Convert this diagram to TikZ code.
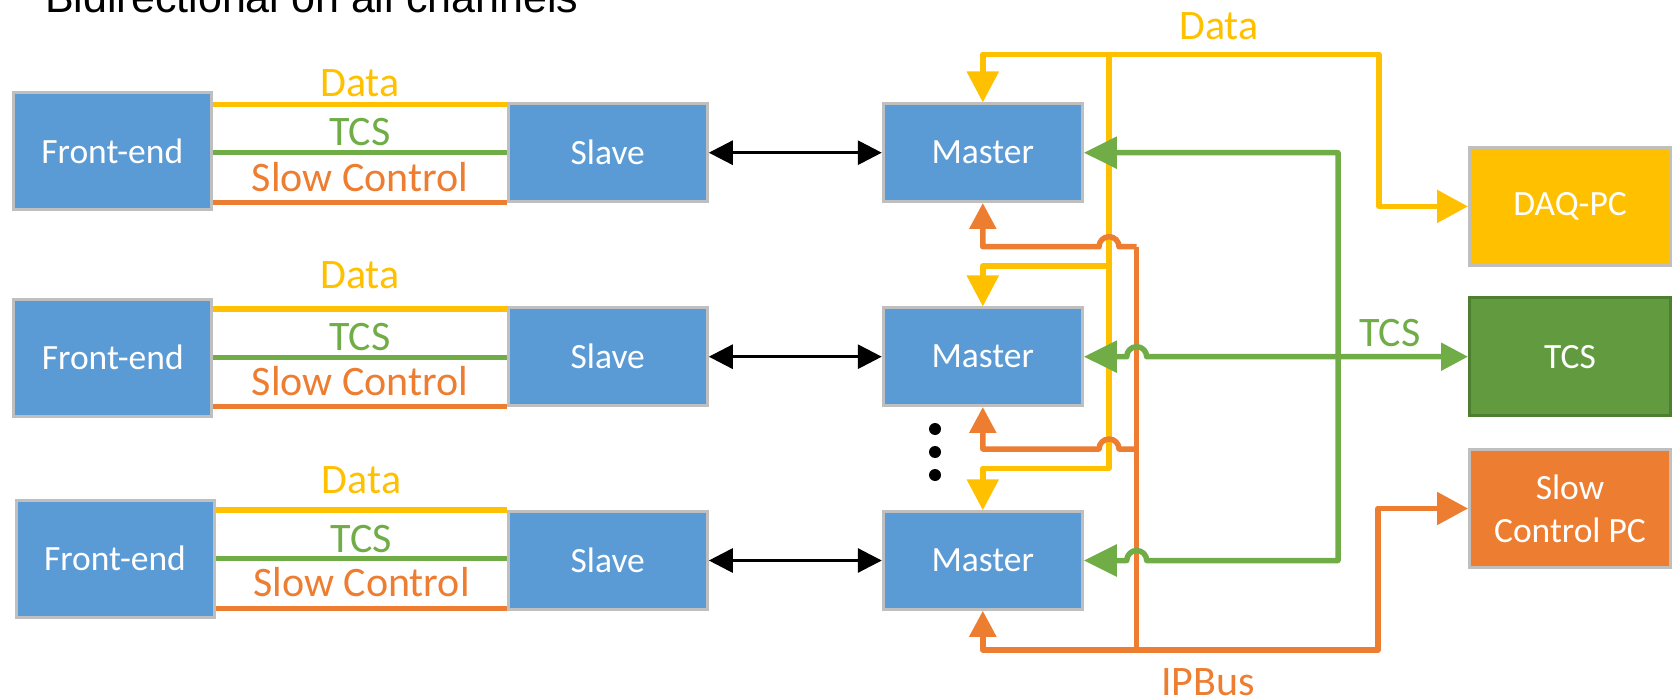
\documentclass[tikz,border=0pt]{standalone}
\usepackage{fontspec}
\setmainfont{Carlito}
\newfontfamily\titlefont{Liberation Sans}
\usetikzlibrary{arrows.meta}

\definecolor{boxblue}{HTML}{5B9BD5}
\definecolor{boxedge}{HTML}{BFBFBF}
\definecolor{datayel}{HTML}{FFC000}
\definecolor{tcsgrn}{HTML}{70AD47}
\definecolor{scorg}{HTML}{ED7D31}
\definecolor{tcsfill}{HTML}{629B3F}
\definecolor{tcsedge}{HTML}{4E7F30}

\tikzset{
  ytip/.tip={Triangle[length=31pt,width=31pt]},
  gtip/.tip={Triangle[length=33pt,width=31pt]},
  ttip/.tip={Triangle[length=27pt,width=27pt]},
  otip/.tip={Triangle[length=26pt,width=26pt]},
  ptip/.tip={Triangle[length=31pt,width=32pt]},
  btip/.tip={Triangle[length=24pt,width=24pt]},
}

\begin{document}
\begin{tikzpicture}[x=1pt,y=-1pt,
  box/.style={draw=boxedge, line width=3pt, fill=boxblue, text=white,
    font=\fontsize{35.5}{42.7}\selectfont, inner sep=0pt, align=center},
  febox/.style={box, minimum width=198pt, minimum height=117pt},
  slbox/.style={box, minimum width=199pt, minimum height=97.5pt},
  pcbox/.style={box, minimum width=201pt, minimum height=118pt},
  bus/.style={line width=5.5pt, line join=round},
  link/.style={line width=3pt, black, btip-btip},
  lab/.style={font=\fontsize{42}{48}\selectfont, inner sep=0pt, anchor=base},
]
\useasboundingbox (0,0) rectangle (1679,698);

% heading
\node[anchor=base west, inner sep=0pt, font=\titlefont\fontsize{43}{50}\selectfont]
  (title) at (45,12.7) {Bidirectional on all channels};

% three readout chains: front-end -> slave -> master
% row / box centre / front-end centre / front-end x / data, tcs, slow-control wire y /
% label baselines / label x
\foreach \i/\r/\f/\fx/\wy/\wg/\wo/\bd/\bt/\bs/\lx in {
    1/152.7/151/112.3/104.3/152.7/202.3/96.7/145.7/191.7/360,
    2/356.7/357.5/112.8/309/357.3/406.7/288.3/350/395/360,
    3/560.5/558.7/115.0/510/558.3/608.3/493.3/552.3/596.7/361.5}{
  \node[febox] (fe\i) at (\fx,\f) {Front-end};
  \node[slbox] (sl\i) at (607.8,\r) {Slave};
  \node[slbox] (ms\i) at (982.8,\r) {Master};
  \draw[bus,datayel] (fe\i.east |- 0,\wy) -- (sl\i.west |- 0,\wy);
  \draw[bus,tcsgrn]  (fe\i.east |- 0,\wg) -- (sl\i.west |- 0,\wg);
  \draw[bus,scorg]   (fe\i.east |- 0,\wo) -- (sl\i.west |- 0,\wo);
  \node[lab,datayel] (ld\i) at (\lx,\bd) {Data};
  \node[lab,tcsgrn]  (lt\i) at (\lx,\bt) {TCS};
  \node[lab,scorg]   (ls\i) at (\lx,\bs) {Slow Control};
  \draw[link] (sl\i.east) -- (ms\i.west);
}

% more masters
\foreach \yy in {429,452,475}{
  \fill (935,\yy) circle[radius=6pt];
}

% back-end computers
\node[pcbox, fill=datayel] (daq) at (1570,206.4) {DAQ-PC};
\node[pcbox, fill=tcsfill, draw=tcsedge] (tcs) at (1570,356.7) {TCS};
\node[pcbox, fill=scorg] (scpc) at (1570,508.5) {Slow\\Control PC};

% data bus
\coordinate (ytop) at (1109,54.3);
\coordinate (ybranch) at (1109,266);
\draw[bus,datayel,-ytip] (ytop) -| (ms1.north);
\draw[bus,datayel,-ptip] (ytop) -| (1379,206.4) -- (daq.west);
\draw[bus,datayel,-ytip] (ytop) -- (1109,468.3) -| (ms3.north);
\draw[bus,datayel,-ytip] (ybranch) -| (ms2.north);
\node[lab,datayel] (datalbl) at (1219,39.3) {Data};

% IPBus
\coordinate (otop) at (1136.7,246.7);
\coordinate (omid) at (1136.7,449);
\coordinate (obot) at (1136.7,650);
\draw[bus,scorg,-otip] (otop) -- (1119,246.7)
  arc[start angle=0,end angle=180,radius=10pt] -- (982.8,246.7) -- (ms1.south);
\draw[bus,scorg,-otip] (omid) -- (1119,449)
  arc[start angle=0,end angle=180,radius=10pt] -- (982.8,449) -- (ms2.south);
\draw[bus,scorg,-otip] (obot) -- (982.8,650) -- (ms3.south);
\draw[bus,scorg,-ptip] (otop) -- (obot) -- (1378,650) -- (1378,508.5) -- (scpc.west);
\node[lab,scorg] (iplbl) at (1208,695) {IPBus};

% timing and control
\draw[bus,tcsgrn,gtip-gtip] (ms1.east) -- (1338,152.7) -- (1338,560.5) -- (1146.7,560.5)
  arc[start angle=0,end angle=180,radius=10pt] -- (ms3.east);
\draw[bus,tcsgrn,gtip-ttip] (ms2.east) -- (1126.7,356.7)
  arc[start angle=180,end angle=0,radius=10pt] -- (tcs.west);
\node[lab,tcsgrn] (tcslbl) at (1390,346.7) {TCS};
\end{tikzpicture}
\end{document}
